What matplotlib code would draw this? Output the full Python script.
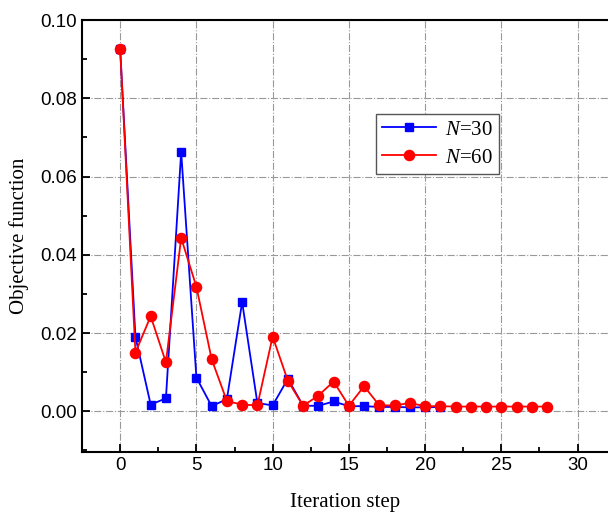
import numpy as np
import matplotlib
matplotlib.use("Agg")
import matplotlib.pyplot as plt
from matplotlib.ticker import MultipleLocator

# datos
it30 = list(range(0, 22))
obj30 = [0.0925, 0.019, 0.0017, 0.0033, 0.0663, 0.0086, 0.0013, 0.0031, 0.0279,
         0.0021, 0.0015, 0.0083, 0.0014, 0.0014, 0.0025, 0.0013, 0.0013, 0.0011,
         0.0011, 0.001, 0.001, 0.0011]
it60 = list(range(0, 29))
obj60 = [0.0925, 0.015, 0.0243, 0.0125, 0.0443, 0.0318, 0.0133, 0.0026, 0.0017,
         0.0015, 0.0191, 0.0078, 0.0014, 0.004, 0.0076, 0.0014, 0.0064, 0.0015,
         0.0015, 0.0021, 0.0013, 0.0013, 0.0012, 0.0012, 0.0012, 0.0012, 0.0012,
         0.0012, 0.0012]

plt.rcParams['mathtext.fontset'] = 'custom'
plt.rcParams['mathtext.it'] = 'Liberation Serif:italic'
plt.rcParams['mathtext.rm'] = 'Liberation Serif'

fig = plt.figure(figsize=(6.08, 5.13), dpi=100)
ax = fig.add_axes([0.135, 0.119, 0.865, 0.842])

ax.plot(it30, obj30, color='#0000ff', marker='s', ms=5.3, lw=1.3, label='$\\it{N}$=30')
ax.plot(it60, obj60, color='#ff0000', marker='o', ms=7.3, lw=1.3, label='$\\it{N}$=60')

ax.set_xlim(-2.5, 32)
ax.set_ylim(-0.0104, 0.1)
ax.xaxis.set_major_locator(MultipleLocator(5))
ax.xaxis.set_minor_locator(MultipleLocator(2.5))
ax.yaxis.set_major_locator(MultipleLocator(0.02))
ax.yaxis.set_minor_locator(MultipleLocator(0.01))
ax.yaxis.set_major_formatter(matplotlib.ticker.FormatStrFormatter('%.2f'))

ax.tick_params(which='both', direction='in', width=1.3, labelsize=13.5)
ax.tick_params(which='major', length=6)
ax.tick_params(which='minor', length=3.5)
ax.tick_params(top=False, right=False)
for lab in ax.get_xticklabels() + ax.get_yticklabels():
    lab.set_family('Liberation Sans')
for s in ax.spines.values():
    s.set_linewidth(1.5)
ax.spines['right'].set_visible(False)

ax.grid(True, which='major', color='#999999', ls='-.', lw=0.8)
ax.set_axisbelow(True)

ax.set_xlabel('Iteration step', family='Liberation Serif', fontsize=15, labelpad=14)
ax.set_ylabel('Objective function', family='Liberation Serif', fontsize=15, labelpad=8)

leg = ax.legend(loc='upper right', bbox_to_anchor=(0.812, 0.807),
                prop={'family': 'Liberation Serif', 'size': 15},
                fancybox=False, edgecolor='#555555', framealpha=1,
                handlelength=2.6, borderpad=0.3, labelspacing=0.4, handletextpad=0.4)
leg.get_frame().set_linewidth(1.0)

fig.savefig('out.png', dpi=100)
